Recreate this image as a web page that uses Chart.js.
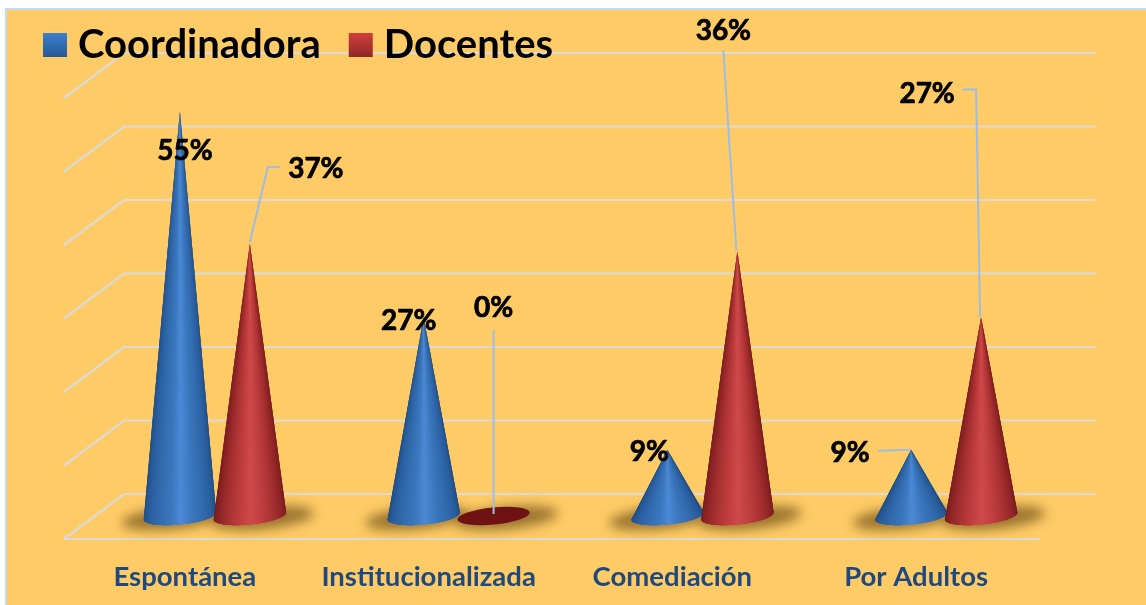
<!DOCTYPE html>
<html><head><meta charset="utf-8">
<style>html,body{margin:0;padding:0;background:#fff}canvas{display:block}</style>
<script src="https://cdn.jsdelivr.net/npm/chart.js@4"></script>
</head><body><canvas id="c" width="1146" height="605"></canvas>
<script>
const categories = ['Espontánea','Institucionalizada','Comediación','Por Adultos'];
const coordinadora = [55,27,9,9];
const docentes = [37,0,36,27];
const valueTicks = [0,10,20,30,40,50,60];

// label centre and leader-line vertices, relative to each cone tip
const coordLabelAt = [[5,39],[-15,3],[-18,2],[-61,3]];
const docLabelAt = [[66,-75],[0,-208],[-14,-220],[-54,-224]];
const coordLeaders = [[],[],[],[[-33,1],[-1,0]]];
const docLeaders = [
  [[0,-2],[18,-77],[30,-77]],
  [[0,-2],[0,-186]],
  [[-1,-1],[-14,-201]],
  [[-1,0],[-5,-228],[-18,-228]]
];

const BLUE = [[0,'#1d4a80'],[.18,'#2a5f9f'],[.42,'#3c78bf'],[.5,'#4c8ad6'],[.62,'#3a75bb'],[.82,'#2a5f9f'],[1,'#1d4a80']];
const RED  = [[0,'#6f1a1c'],[.2,'#96282a'],[.42,'#c23f40'],[.5,'#cf4a4a'],[.62,'#bb3c3d'],[.82,'#932628'],[1,'#701a1c']];
function hex(c){return [1,3,5].map(i=>parseInt(c.substr(i,2),16));}
function ramp(stops,u){
  for(let i=1;i<stops.length;i++){
    if(u<=stops[i][0]){
      const a=stops[i-1],b=stops[i],t=(u-a[0])/(b[0]-a[0]);
      const A=hex(a[1]),B=hex(b[1]);
      return `rgb(${A.map((v,k)=>Math.round(v+(B[k]-v)*t)).join(',')})`;
    }
  }
  return stops[stops.length-1][1];
}
const TILT=-0.1, RY=8.5;
function ellipsePoint(cx,cy,rx,ry,a){
  const x=rx*Math.cos(a), y=ry*Math.sin(a);
  return [cx+x*Math.cos(TILT)-y*Math.sin(TILT), cy+x*Math.sin(TILT)+y*Math.cos(TILT)];
}
function drawCone(ctx,el,stops,flat){
  const cx=el.x, cy=el.base, rx=el.width/2;
  if(Math.abs(el.base-el.y)<1){
    ctx.beginPath();ctx.ellipse(cx,cy,rx,RY,TILT,0,Math.PI*2);ctx.fillStyle=flat;ctx.fill();
    return;
  }
  const N=72;
  for(let i=0;i<N;i++){
    const p0=ellipsePoint(cx,cy,rx,RY,Math.PI-i/N*Math.PI);
    ctx.beginPath();ctx.moveTo(el.x,el.y);ctx.lineTo(p0[0],p0[1]);
    // follow the base curve so the overdraw keeps the rim round
    for(let j=i+1;j<=Math.min(i+3,N);j++){const p=ellipsePoint(cx,cy,rx,RY,Math.PI-j/N*Math.PI);ctx.lineTo(p[0],p[1]);}
    ctx.closePath();
    ctx.fillStyle=ramp(stops,(i+.5)/N);ctx.fill();
  }
}
const cones={
  id:'cones',
  beforeDraw(chart){
    const c=chart.ctx,y=chart.scales.y;
    c.save();
    c.fillStyle='#fff';c.fillRect(0,0,chart.width,chart.height);
    c.fillStyle='#fecb66';c.fillRect(6,9,chart.width,chart.height);
    c.strokeStyle='#c6d9f1';c.lineWidth=2;
    c.beginPath();c.moveTo(6,chart.height);c.lineTo(6,9);c.lineTo(chart.width,9);c.stroke();
    c.strokeStyle='#dbdad6';c.lineWidth=2.2;
    y.ticks.forEach(t=>{
      const py=y.getPixelForValue(t.value);
      c.beginPath();c.moveTo(64,py+23);c.lineTo(124,py-22);c.lineTo(1096,py-22);c.stroke();
    });
    const p0=y.getPixelForValue(0);
    c.beginPath();c.moveTo(64,p0+23);c.lineTo(1040,p0+23);c.stroke();
    // floor shadows
    c.filter='blur(6px)';
    chart.data.datasets.forEach((d,i)=>{
      chart.getDatasetMeta(i).data.forEach(el=>{
        c.beginPath();
        c.ellipse(el.x+(i?13:-7),el.base+2,el.width/2+15,11,TILT,0,Math.PI*2);
        c.fillStyle='rgba(92,62,12,.62)';c.fill();
      });
    });
    c.filter='none';
    c.restore();
  },
  afterDatasetsDraw(chart){
    const c=chart.ctx;
    const sets=[[0,coordLabelAt,coordLeaders,BLUE,'#1d4a80'],[1,docLabelAt,docLeaders,RED,'#6e1214']];
    c.save();
    sets.forEach(([i,,,stops,flat])=>chart.getDatasetMeta(i).data.forEach(el=>drawCone(c,el,stops,flat)));
    c.strokeStyle='#9dbde3';c.lineWidth=2;c.lineJoin='round';
    sets.forEach(([i,,leaders])=>chart.getDatasetMeta(i).data.forEach((el,k)=>{
      if(!leaders[k].length)return;
      c.beginPath();
      leaders[k].forEach((p,n)=>{n?c.lineTo(el.x+p[0],el.y+p[1]):c.moveTo(el.x+p[0],el.y+p[1]);});
      c.stroke();
    }));
    c.fillStyle='#000';c.strokeStyle='#000';c.lineWidth=.7;c.font='bold 28px Lato';c.textAlign='center';c.textBaseline='middle';
    sets.forEach(([i,at])=>chart.getDatasetMeta(i).data.forEach((el,k)=>{
      const s=chart.data.datasets[i].data[k]+'%';
      c.fillText(s,el.x+at[k][0],el.y+at[k][1]);
      c.strokeText(s,el.x+at[k][0],el.y+at[k][1]);
    }));
    // legend swatches
    chart.legend.legendHitBoxes.forEach((b,i)=>{
      const g=c.createLinearGradient(0,33,0,57);
      if(i===0){g.addColorStop(0,'#3f7fce');g.addColorStop(1,'#255a96');}
      else{g.addColorStop(0,'#d13f3c');g.addColorStop(1,'#8f2627');}
      c.fillStyle=g;c.fillRect(b.left,33,24,24);
    });
    c.restore();
  }
};
new Chart(document.getElementById('c'),{
  type:'bar',
  data:{labels:categories,datasets:[
    {label:'Coordinadora',data:coordinadora,backgroundColor:'transparent',categoryPercentage:.574,barPercentage:1.04},
    {label:'Docentes',data:docentes,backgroundColor:'transparent',categoryPercentage:.574,barPercentage:1.04}
  ]},
  options:{
    responsive:false,animation:false,
    layout:{padding:{left:15,right:78,top:-3,bottom:0}},
    plugins:{
      tooltip:{enabled:false},
      legend:{
        position:'top',align:'start',maxHeight:81,
        labels:{boxWidth:15,boxHeight:15,padding:28,color:'#000',font:{family:'Lato',size:40,weight:'bold'},
          generateLabels:ch=>ch.data.datasets.map((d,i)=>({text:d.label,fillStyle:'transparent',strokeStyle:'transparent',lineWidth:0,datasetIndex:i}))}
      }
    },
    scales:{
      x:{
        grid:{display:false},border:{display:false},
        ticks:{labelOffset:-30,padding:37,maxRotation:0,autoSkip:false,color:'#1f497d',font:{family:'Lato',size:27.5,weight:'bold'}},
        afterFit(s){s.height=89;}
      },
      y:{
        min:0,max:60,afterBuildTicks(s){s.ticks=valueTicks.map(v=>({value:v}));},
        grid:{display:false},border:{display:false},
        ticks:{display:false},
        afterFit(s){s.width=78;}
      }
    }
  },
  plugins:[cones]
});
</script></body></html>
